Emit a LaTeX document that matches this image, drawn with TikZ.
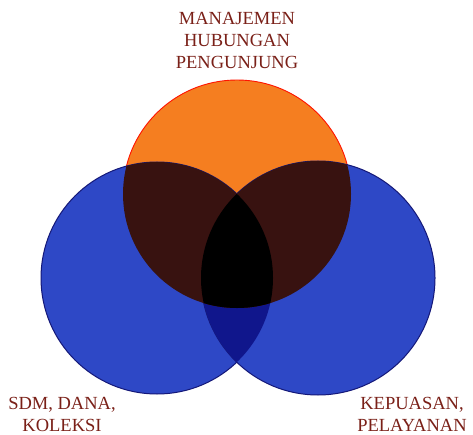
\documentclass[tikz,border=0pt]{standalone}
\usepackage{fontspec}
\setmainfont{Liberation Serif}
\usetikzlibrary{positioning}
\definecolor{venorange}{RGB}{245,126,32}
\definecolor{venblue}{RGB}{46,72,198}
\definecolor{venbrown}{RGB}{56,18,16}
\definecolor{venlens}{RGB}{16,22,140}
\definecolor{venline}{RGB}{20,24,120}
\definecolor{ventext}{RGB}{122,32,24}

\begin{document}
\begin{tikzpicture}[x=1pt,y=-1pt,
		lbl/.style={text=ventext,align=center,inner sep=0pt,anchor=north,
			font=\fontsize{18.5}{22}\selectfont},
		bluecirc/.style={fill=venblue,draw=venline,line width=1pt}]
		\useasboundingbox (0,0) rectangle (473,435);
		\coordinate (top) at (237,194);
		\coordinate (lft) at (157,278);
		\coordinate (rgt) at (318,278);
		\draw[fill=venorange,draw=red!85!orange,line width=0.9pt] (top) circle (114pt);
		\draw[bluecirc] (lft) circle (116pt);
		\draw[bluecirc] (rgt) circle (117pt);
		\begin{scope}
			\clip (lft) circle (116pt);
			\fill[venlens] (rgt) circle (117pt);
		\end{scope}
		\begin{scope}
			\clip (top) circle (114pt);
			\fill[venbrown] (lft) circle (116pt);
			\fill[venbrown] (rgt) circle (117pt);
		\end{scope}
		\begin{scope}
			\clip (top) circle (114pt);
			\clip (lft) circle (116pt);
			\fill[black] (rgt) circle (117pt);
		\end{scope}
		\node[lbl] (mhp) at (237,12) {MANAJEMEN\\HUBUNGAN\\PENGUNJUNG};
		\node[lbl] (sdk) at (62,397) {SDM, DANA,\\KOLEKSI};
		\node[lbl] (kpl) at (412,397) {KEPUASAN,\\PELAYANAN};
	\end{tikzpicture}
\end{document}
